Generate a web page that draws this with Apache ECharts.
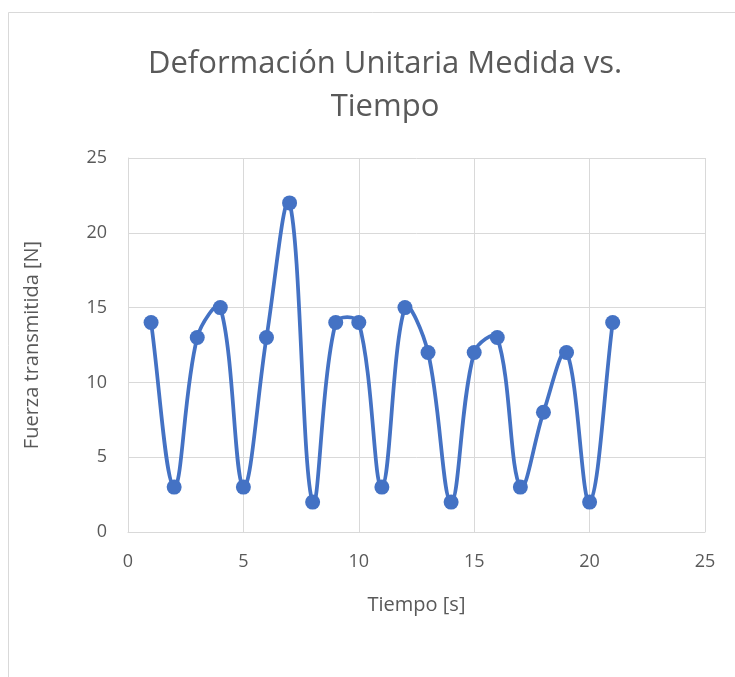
<!DOCTYPE html>
<html>
<head>
<meta charset="utf-8">
<script src="https://cdn.jsdelivr.net/npm/echarts@6/dist/echarts.min.js"></script>
<style>
  html, body { margin: 0; padding: 0; background: #fff; }
  #chart { width: 735px; height: 677px; }
</style>
</head>
<body>
<div id="chart"></div>
<script>
// Measured force over time
const tiempo = [1, 2, 3, 4, 5, 6, 7, 8, 9, 10, 11, 12, 13, 14, 15, 16, 17, 18, 19, 20, 21];
const fuerza = [14, 3, 13, 15, 3, 13, 22, 2, 14, 14, 3, 15, 12, 2, 12, 13, 3, 8, 12, 2, 14];

const textColor = '#595959';
const gridColor = '#d9d9d9';
const lineColor = '#4472C4';
const font = 'Open Sans';

// Smoothed segment between point i and i+1: cubic Bezier whose tangents run
// parallel to the neighbouring chord, scaled by the adjacent segment lengths.
function renderSegment(params, api) {
  const n = tiempo.length;
  const i = params.dataIndex;
  const at = j => {
    const k = Math.max(0, Math.min(n - 1, j));
    return api.coord([tiempo[k], fuerza[k]]);
  };
  const dist = (a, b) => Math.hypot(b[0] - a[0], b[1] - a[1]);
  const f = 0.36;
  const p0 = at(i - 1), p1 = at(i), p2 = at(i + 1), p3 = at(i + 2);
  const a1 = dist(p0, p1), b1 = dist(p1, p2), c1 = dist(p2, p3);
  const s1 = (a1 + b1) > 0 ? f * b1 / (a1 + b1) : 0;
  const s2 = (b1 + c1) > 0 ? f * b1 / (b1 + c1) : 0;
  return {
    type: 'bezierCurve',
    shape: {
      x1: p1[0], y1: p1[1],
      x2: p2[0], y2: p2[1],
      cpx1: p1[0] + (p2[0] - p0[0]) * s1,
      cpy1: p1[1] + (p2[1] - p0[1]) * s1,
      cpx2: p2[0] - (p3[0] - p1[0]) * s2,
      cpy2: p2[1] - (p3[1] - p1[1]) * s2
    },
    style: { stroke: lineColor, lineWidth: 3.75, fill: null, lineCap: 'round' },
    silent: true
  };
}

const points = tiempo.map((t, i) => [t, fuerza[i]]);

const chart = echarts.init(document.getElementById('chart'));
chart.setOption({
  backgroundColor: '#fff',
  animation: false,
  graphic: [{
    type: 'rect',
    shape: { x: 8.5, y: 12.5, width: 740, height: 700 },
    style: { fill: 'none', stroke: gridColor, lineWidth: 1 },
    silent: true
  }],
  title: {
    text: 'Deformación Unitaria Medida vs.\nTiempo',
    left: 380,
    textAlign: 'center',
    top: 38,
    textStyle: {
      color: textColor, fontFamily: font, fontWeight: 'normal',
      fontSize: 31, lineHeight: 43
    }
  },
  grid: { left: 128, right: 30, top: 158, bottom: 145, containLabel: false },
  xAxis: {
    type: 'value', min: 0, max: 25, interval: 5,
    name: 'Tiempo [s]', nameLocation: 'middle', nameGap: 63,
    nameTextStyle: { color: textColor, fontFamily: font, fontSize: 20 },
    axisLine: { show: true, lineStyle: { color: gridColor, width: 1 } },
    axisTick: { show: false },
    axisLabel: { color: textColor, fontFamily: font, fontSize: 18, margin: 21 },
    splitLine: { show: true, lineStyle: { color: gridColor, width: 1 } }
  },
  yAxis: {
    type: 'value', min: 0, max: 25, interval: 5,
    name: 'Fuerza transmitida [N]', nameLocation: 'middle', nameGap: 86,
    nameTextStyle: { color: textColor, fontFamily: font, fontSize: 20 },
    axisLine: { show: true, lineStyle: { color: gridColor, width: 1 } },
    axisTick: { show: false },
    axisLabel: { color: textColor, fontFamily: font, fontSize: 18, margin: 21 },
    splitLine: { show: true, lineStyle: { color: gridColor, width: 1 } }
  },
  series: [{
    type: 'custom',
    data: points.slice(0, -1),
    renderItem: renderSegment,
    silent: true,
    z: 2
  }, {
    type: 'scatter',
    data: points,
    symbol: 'circle',
    symbolSize: 15,
    itemStyle: { color: lineColor, opacity: 1 },
    z: 3
  }]
});
</script>
</body>
</html>
